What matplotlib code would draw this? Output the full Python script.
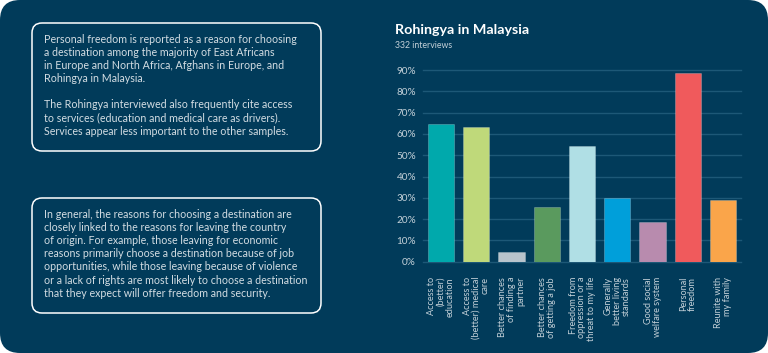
import matplotlib.pyplot as plt
from matplotlib.patches import FancyBboxPatch

plt.rcParams['font.family'] = ['Lato', 'DejaVu Sans']

# chart data
reasons = [
    "Access to\n(better)\neducation",
    "Access to\n(better) medical\ncare",
    "Better chances\nof finding a\npartner",
    "Better chances\nof getting a job",
    "Freedom from\noppression or a\nthreat to my life",
    "Generally\nbetter living\nstandards",
    "Good social\nwelfare system",
    "Personal\nfreedom",
    "Reunite with\nmy family",
]
shares = [64.6, 63.1, 4.4, 25.8, 54.2, 29.9, 18.6, 88.4, 29.1]
colors = ["#00A9AC", "#BFD97A", "#B8C4CC", "#5A9A5E", "#B0DFE5",
          "#009FDA", "#B88BAE", "#F05A5C", "#FAA54A"]
yticks = [0, 10, 20, 30, 40, 50, 60, 70, 80, 90]

title = "Rohingya in Malaysia"
subtitle = "332 interviews"

para1 = [
    "Personal freedom is reported as a reason for choosing",
    "a destination among the majority of East Africans",
    "in Europe and North Africa, Afghans in Europe, and",
    "Rohingya in Malaysia.",
    "",
    "The Rohingya interviewed also frequently cite access",
    "to services (education and medical care as drivers).",
    "Services appear less important to the other samples.",
]
para2 = [
    "In general, the reasons for choosing a destination are",
    "closely linked to the reasons for leaving the country",
    "of origin. For example, those leaving for economic",
    "reasons primarily choose a destination because of job",
    "opportunities, while those leaving because of violence",
    "or a lack of rights are most likely to choose a destination",
    "that they expect will offer freedom and security.",
]

navy = "#013B5A"
grid_c = "#1D5877"
text_c = "#D3DDE3"
label_c = "#C3D0D8"

W, H = 768, 353
fig = plt.figure(figsize=(W / 100, H / 100), dpi=100, facecolor="white")

# background layer in pixel coordinates
bg = fig.add_axes([0, 0, 1, 1])
bg.set_xlim(0, W)
bg.set_ylim(H, 0)
bg.axis("off")
bg.add_patch(FancyBboxPatch((20, 20), W - 40, H - 40,
                            boxstyle="round,pad=20,rounding_size=20",
                            fc=navy, ec="none"))
for (x0, y0, x1, y1) in [(32, 23, 321, 151), (32, 198, 321, 313)]:
    bg.add_patch(FancyBboxPatch((x0 + 10, y0 + 10), x1 - x0 - 20, y1 - y0 - 20,
                                boxstyle="round,pad=10,rounding_size=10",
                                fc="none", ec="white", lw=1.1))

for i, line in enumerate(para1):
    bg.text(44, 39.5 + i * 13.1, line, color=text_c, fontsize=7.7, va="center")
for i, line in enumerate(para2):
    bg.text(44, 214 + i * 13.2, line, color=text_c, fontsize=7.7, va="center")

bg.text(395, 30, title, color="white", fontsize=10.3, fontweight="bold", va="center")
bg.text(395, 45, subtitle, color=label_c, fontsize=6.3, va="center")

# bar chart
ax = fig.add_axes([423 / W, 1 - 261.7 / H, (741 - 423) / W, (261.7 - 70) / H])
ax.set_facecolor("none")
x = range(len(shares))
ax.bar(x, shares, width=0.74, color=colors, edgecolor=(1, 1, 1, 0.25), linewidth=0.6, zorder=3)
ax.set_xlim(-0.51, len(shares) - 0.49)
ax.set_ylim(0, 90)
ax.set_yticks(yticks)
ax.set_yticklabels([f"{v}%" for v in yticks])
ax.grid(axis="y", color=grid_c, lw=1.0, zorder=0)
for s in ax.spines.values():
    s.set_visible(False)
ax.tick_params(axis="y", length=0, pad=5, labelsize=7.2, labelcolor=label_c)
ax.set_xticks(list(x))
ax.set_xticklabels(reasons, rotation=90, ha="center", va="top",
                   multialignment="right", fontsize=6.6, color=label_c,
                   linespacing=1.0)
ax.tick_params(axis="x", length=0, pad=11)
for ln in ax.get_ygridlines():
    ln.set_clip_on(False)

fig.savefig("out.png", dpi=100, facecolor="white")
